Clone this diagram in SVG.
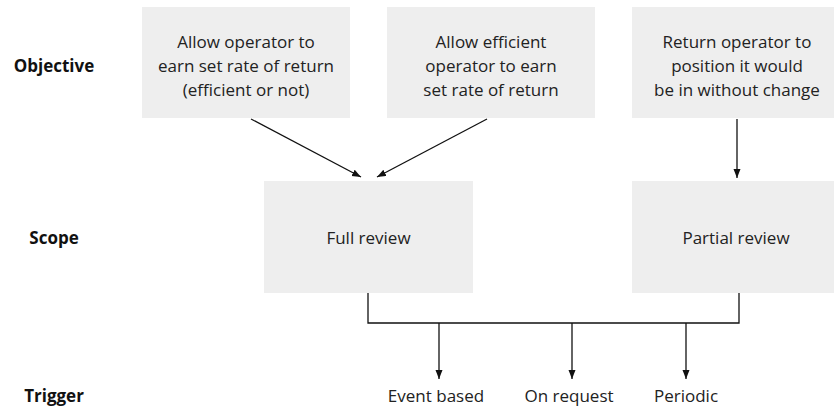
<svg xmlns="http://www.w3.org/2000/svg" width="834" height="408" viewBox="0 0 834 408">
<style>
.box{fill:#eeeeee;}
.t{font-family:"Open Sans","Liberation Sans",sans-serif;font-size:17px;fill:#222;text-anchor:middle;}
.lbl{font-family:"Open Sans","Liberation Sans",sans-serif;font-size:17px;font-weight:bold;fill:#111;text-anchor:middle;}
.c{stroke:#111;stroke-width:1.3;fill:none;}
</style>
<defs>
<marker id="ah" markerUnits="userSpaceOnUse" markerWidth="10" markerHeight="8" refX="9" refY="3.5" orient="auto">
<path d="M0,0 L9,3.5 L0,7 z" fill="#111"/>
</marker>
</defs>
<g id="row-labels">
<text class="lbl" x="54" y="72">Objective</text>
<text class="lbl" x="54" y="244">Scope</text>
<text class="lbl" x="54" y="402">Trigger</text>
</g>
<g id="obj1">
<rect class="box" x="142" y="7" width="208" height="111"/>
<text class="t" x="246" y="48">Allow operator to</text>
<text class="t" x="246" y="72">earn set rate of return</text>
<text class="t" x="246" y="96">(efficient or not)</text>
</g>
<g id="obj2">
<rect class="box" x="387" y="7" width="208" height="111"/>
<text class="t" x="491" y="48">Allow efficient</text>
<text class="t" x="491" y="72">operator to earn</text>
<text class="t" x="491" y="96">set rate of return</text>
</g>
<g id="obj3">
<rect class="box" x="632" y="7" width="208" height="111"/>
<text class="t" x="737" y="48">Return operator to</text>
<text class="t" x="737" y="72">position it would</text>
<text class="t" x="737" y="96">be in without change</text>
</g>
<g id="full">
<rect class="box" x="264" y="181" width="209" height="112"/>
<text class="t" x="368.5" y="244">Full review</text>
</g>
<g id="partial">
<rect class="box" x="632" y="181" width="208" height="112"/>
<text class="t" x="736" y="244">Partial review</text>
</g>
<g id="event"><text class="t" x="436" y="402">Event based</text></g>
<g id="request"><text class="t" x="569" y="402">On request</text></g>
<g id="periodic"><text class="t" x="686" y="402">Periodic</text></g>
<g id="connectors">
<line class="c" x1="251" y1="119" x2="361" y2="177" marker-end="url(#ah)"/>
<line class="c" x1="487" y1="119" x2="377" y2="177" marker-end="url(#ah)"/>
<line class="c" x1="737" y1="119" x2="737" y2="178" marker-end="url(#ah)"/>
<path class="c" d="M368,293 V323 H739 V293"/>
<line class="c" x1="439" y1="323" x2="439" y2="379" marker-end="url(#ah)"/>
<line class="c" x1="572" y1="323" x2="572" y2="379" marker-end="url(#ah)"/>
<line class="c" x1="686" y1="323" x2="686" y2="379" marker-end="url(#ah)"/>
</g>
</svg>
